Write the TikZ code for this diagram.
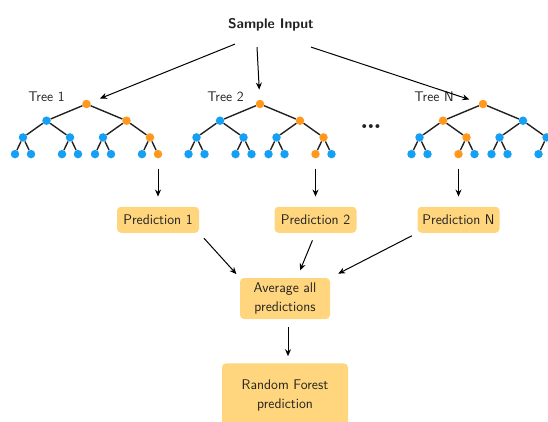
\documentclass[tikz,border=0pt]{standalone}
\usepackage{tikz}
\usetikzlibrary{positioning, arrows.meta, calc}
\definecolor{naranja}{RGB}{255, 152, 28}
\definecolor{azul}{RGB}{22, 160, 245}
\definecolor{amarillo}{RGB}{255, 214, 125}
\definecolor{texto}{RGB}{34, 34, 34}

% arbol binario: #1 nombre, #2 x de la raiz, #3 hoja marcada (0..7)
\newcommand{\arbol}[3]{%
  \node[hoja, fill=naranja] (#1-0-0) at (#2,104) {};
  \foreach \n/\dx in {1/40, 2/23.5, 3/8} {
    \pgfmathtruncatemacro{\m}{2^\n-1}
    \pgfmathtruncatemacro{\p}{\n-1}
    \foreach \i in {0,...,\m} {
      \pgfmathtruncatemacro{\padre}{floor(\i/2)}
      \pgfmathtruncatemacro{\lado}{2*mod(\i,2)-1}
      \pgfmathtruncatemacro{\marca}{floor(#3/2^(3-\n))==\i}
      \ifnum\marca=1 \def\col{naranja}\else\def\col{azul}\fi
      \node[hoja, fill=\col] (#1-\n-\i) at ($(#1-\p-\padre)+(\lado*\dx,16.7)$) {};
      \draw[rama] (#1-\p-\padre) -- (#1-\n-\i);
    }
  }
}

\begin{document}
\begin{tikzpicture}[x=1pt, y=-1pt,
    font=\sffamily\fontsize{14}{19}\selectfont, text=texto,
    hoja/.style={circle, inner sep=0pt, minimum size=8.5pt},
    rama/.style={line width=1.4pt, texto},
    caja/.style={fill=amarillo, rounded corners=4pt, align=center, inner sep=0pt},
    flecha/.style={-{Stealth[length=7pt, width=6pt]}, line width=1pt, black}]
    \useasboundingbox (0,0) rectangle (548,421);
    \clip (0,0) rectangle (548,421);
    % entrada
    \node[font=\sffamily\bfseries\fontsize{14}{17}\selectfont, inner sep=0pt] (entrada) at (271,24.5) {Sample Input};
    % arboles
    \arbol{a1}{86.5}{7}
    \arbol{a2}{260}{6}
    \arbol{aN}{483}{2}
    \node (t1) at (46.5,97) {Tree 1};
    \node (t2) at (225.5,97) {Tree 2};
    \node (tN) at (434,97) {Tree N};
    \node[font=\bfseries\fontsize{27}{27}\selectfont] (puntos) at (371,127) {\ldots};
    \draw[flecha, shorten >=10pt] ([shift={(-36,13)}]entrada.south) -- (a1-0-0);
    \draw[flecha, shorten >=10pt] ([shift={(-14,16)}]entrada.south) -- (a2-0-0);
    \draw[flecha, shorten >=10pt] ([shift={(40,16)}]entrada.south) -- (aN-0-0);
    % predicciones
    \node[caja, minimum width=82pt, minimum height=26pt, below=48pt of a1-3-7] (p1) {Prediction 1};
    \node[caja, minimum width=82pt, minimum height=26pt, below=48pt of a2-3-6] (p2) {Prediction 2};
    \node[caja, minimum width=82pt, minimum height=26pt, below=48pt of aN-3-2] (pN) {Prediction N};
    \draw[flecha, shorten <=10pt, shorten >=10pt] (a1-3-7) -- (p1);
    \draw[flecha, shorten <=10pt, shorten >=10pt] (a2-3-6) -- (p2);
    \draw[flecha, shorten <=10pt, shorten >=10pt] (aN-3-2) -- (pN);
    % promedio y resultado
    \node[caja, minimum width=90pt, minimum height=41pt] (prom) at (285,298.5) {Average all\\predictions};
    \node[caja, minimum width=126pt, minimum height=64pt, below=44pt of prom] (rf) {Random Forest\\prediction};
    \draw[flecha, shorten <=7pt, shorten >=5pt] (p1.south east) -- (prom.north west);
    \draw[flecha, shorten <=8pt, shorten >=8pt] (p2.south) -- ([xshift=12pt]prom.north);
    \draw[flecha, shorten <=6pt, shorten >=9pt] (pN.south west) -- (prom.north east);
    \draw[flecha, shorten <=8pt, shorten >=7pt] ([xshift=3pt]prom.south) -- ([xshift=3pt]rf.north);
\end{tikzpicture}
\end{document}
